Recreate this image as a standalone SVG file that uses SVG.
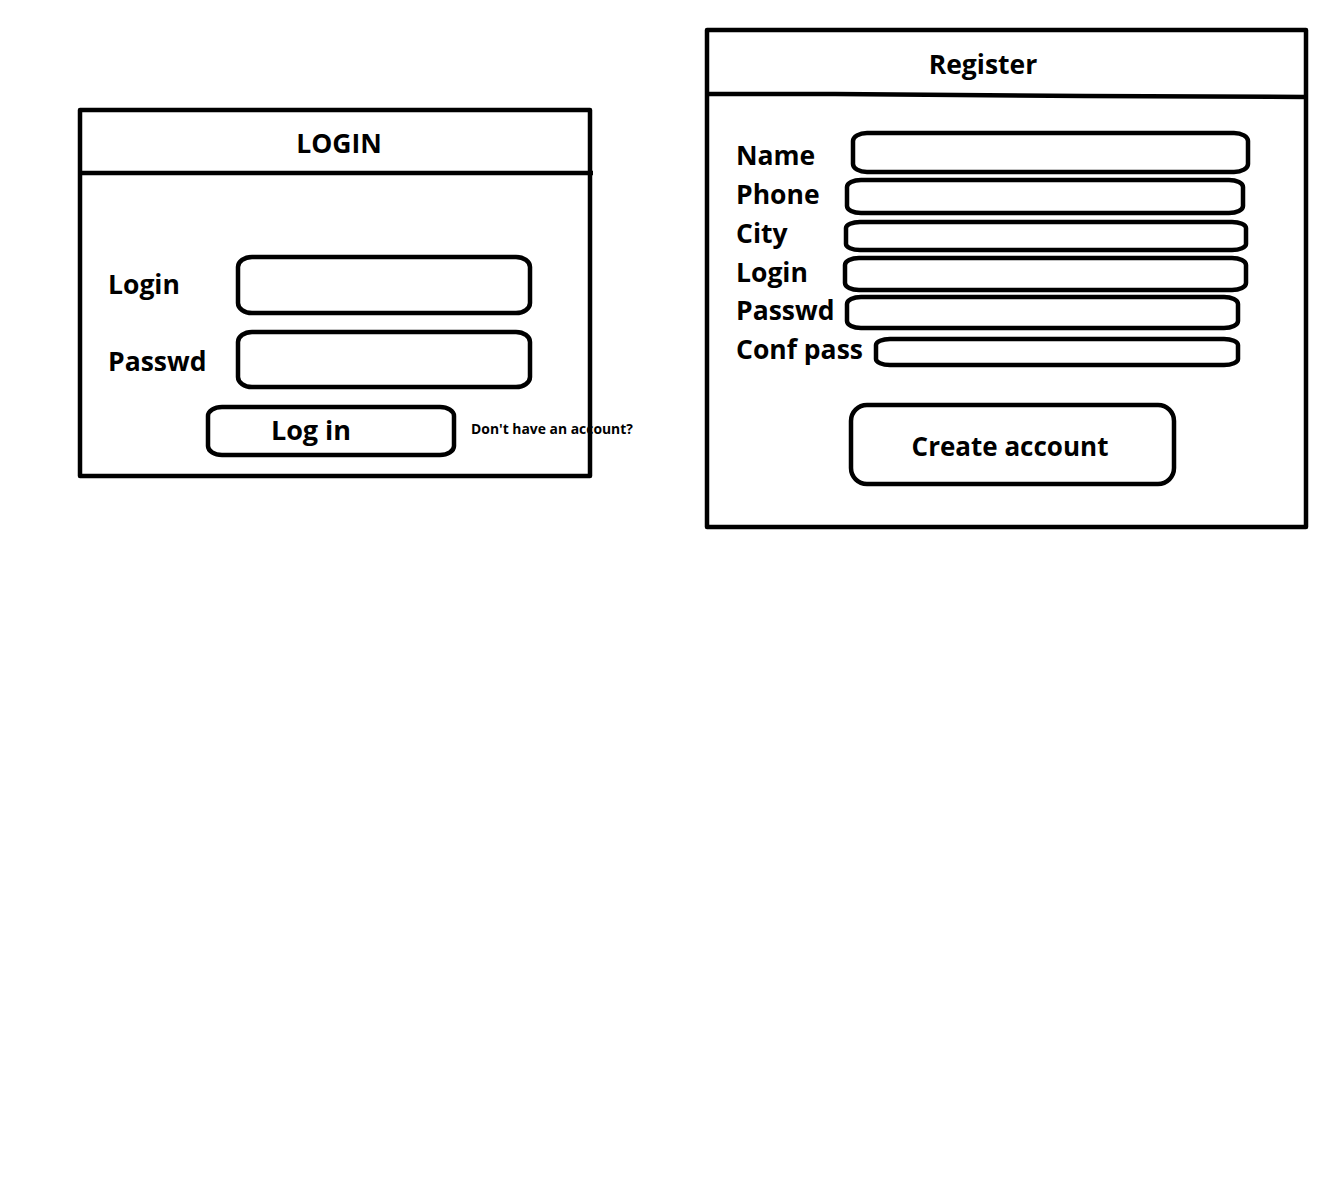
<svg xmlns="http://www.w3.org/2000/svg" width="1344" height="1194" viewBox="0 0 1344 1194">
<style>
.f{fill:none;stroke:#000;stroke-width:4.5;stroke-linejoin:round}
.t{font-family:"Open Sans","Liberation Sans",sans-serif;font-weight:700;fill:#000}
.l{font-size:26.5px}
</style>
<rect width="1344" height="1194" fill="#fff"/>
<g id="login-panel">
<text class="t" x="471" y="434" font-size="13.9">Don't have an account?</text>
<rect class="f" x="80" y="110" width="510" height="366"/>
<line class="f" x1="80" y1="173" x2="593" y2="173"/>
<text class="t l" x="339" y="153" text-anchor="middle">LOGIN</text>
<text class="t l" x="108" y="294">Login</text>
<text class="t l" x="108" y="371">Passwd</text>
<rect class="f" x="238" y="257" width="292" height="56" rx="14" ry="10"/>
<rect class="f" x="238" y="332" width="292" height="55" rx="14" ry="10"/>
<g id="login-button">
<rect class="f" x="208" y="407" width="246" height="48" rx="14" ry="9"/>
<text class="t" x="311" y="440" font-size="27" text-anchor="middle">Log in</text>
</g>
</g>
<g id="register-panel">
<rect class="f" x="707" y="30" width="599" height="497"/>
<polyline class="f" points="707,94 835,94 1085,96 1306,97"/>
<text class="t l" x="983" y="74" text-anchor="middle">Register</text>
<text class="t l" x="736" y="165">Name</text>
<text class="t l" x="736" y="204">Phone</text>
<text class="t l" x="736" y="243">City</text>
<text class="t l" x="736" y="282">Login</text>
<text class="t l" x="736" y="320">Passwd</text>
<text class="t l" x="736" y="359">Conf pass</text>
<rect class="f" x="853" y="133" width="395" height="39" rx="14" ry="8"/>
<rect class="f" x="847" y="180" width="396" height="33" rx="14" ry="7"/>
<rect class="f" x="846" y="222" width="400" height="28" rx="14" ry="6"/>
<rect class="f" x="845" y="258" width="401" height="32" rx="14" ry="7"/>
<rect class="f" x="847" y="297" width="391" height="31" rx="14" ry="7"/>
<rect class="f" x="876" y="339" width="362" height="26" rx="14" ry="6"/>
<g id="create-account-button">
<rect class="f" x="851" y="405" width="323" height="79" rx="16"/>
<text class="t" x="1010" y="456" font-size="26" text-anchor="middle">Create account</text>
</g>
</g>
</svg>
